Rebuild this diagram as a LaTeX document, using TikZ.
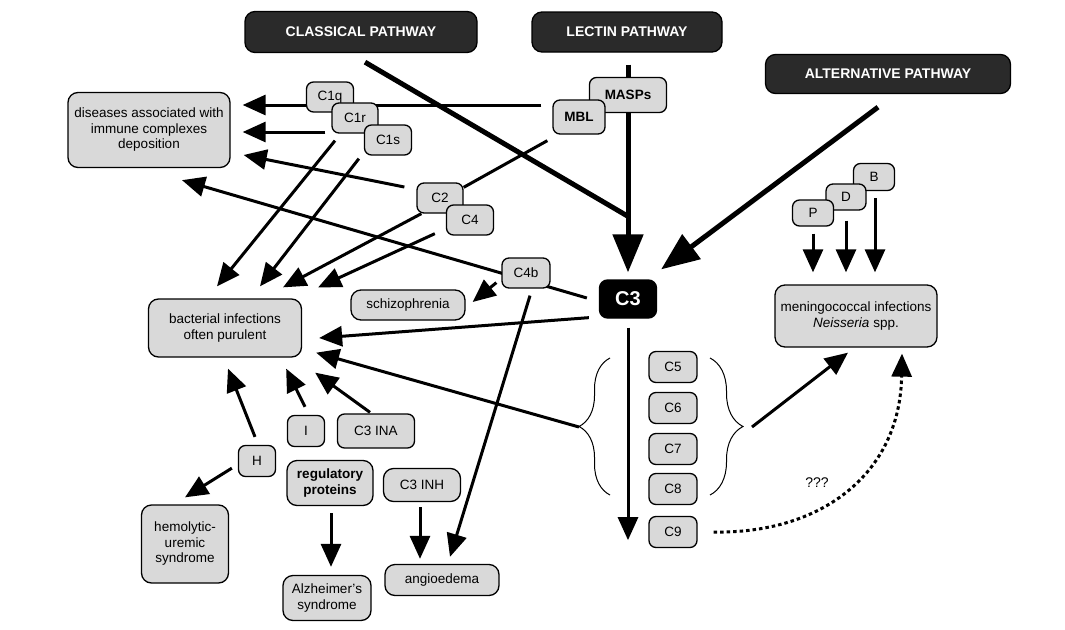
\documentclass[tikz,border=0pt]{standalone}
\usepackage{fontspec}
\setmainfont{Liberation Sans}
\usetikzlibrary{arrows.meta,calc,backgrounds,decorations.pathreplacing}
\definecolor{boxgray}{RGB}{217,217,217}
\definecolor{pathdark}{RGB}{42,42,42}

\begin{document}
\begin{tikzpicture}[x=1pt,y=-1pt,
    every node/.style={font=\fontsize{13.5}{15.5}\selectfont},
    gbox/.style={draw,line width=1.3pt,fill=boxgray,rounded corners=10pt,align=center,inner sep=0pt},
    sgbox/.style={gbox,rounded corners=7pt},
    pathway/.style={draw,line width=1.3pt,fill=pathdark,text=white,font=\fontsize{14}{16}\selectfont\bfseries,rounded corners=10pt,inner sep=0pt},
    arr/.style={line width=3pt,-{Triangle[length=23pt,width=20pt]}},
    bigarr/.style={line width=5pt,-{Triangle[length=38pt,width=30pt]}},
    conn/.style={line width=3pt},
    ]
    \useasboundingbox (0,0) rectangle (1065,629);

    % pathways
    \node[pathway,minimum width=232pt,minimum height=41pt] (cls) at (361,32) {CLASSICAL PATHWAY};
    \node[pathway,minimum width=190pt,minimum height=40pt] (lec) at (627,32) {LECTIN PATHWAY};
    \node[pathway,minimum width=245pt,minimum height=39pt] (alt) at (888,74) {ALTERNATIVE PATHWAY};

    % components
    \node[sgbox,minimum width=47pt,minimum height=30pt] (C1q) at (330,97) {C1q};
    \node[sgbox,minimum width=46pt,minimum height=30pt] (C1r) at (355,118) {C1r};
    \node[sgbox,minimum width=47pt,minimum height=30pt] (C1s) at (388,140) {C1s};
    \node[sgbox,minimum width=77pt,minimum height=35pt,font=\fontsize{13.5}{15.5}\selectfont\bfseries] (MASPs) at (628,95) {MASPs};
    \node[sgbox,minimum width=52pt,minimum height=34pt,font=\fontsize{13.5}{15.5}\selectfont\bfseries] (MBL) at (579,117) {MBL};
    \node[sgbox,minimum width=46pt,minimum height=30pt] (C2) at (440,198) {C2};
    \node[sgbox,minimum width=47pt,minimum height=30pt] (C4) at (470,220) {C4};
    \node[sgbox,minimum width=48pt,minimum height=30pt] (C4b) at (526,273) {C4b};
    \node[draw,line width=1.3pt,fill=black,text=white,rounded corners=8pt,inner sep=0pt,
          minimum width=57pt,minimum height=38pt,font=\fontsize{20}{24}\selectfont\bfseries] (C3) at (628,299) {C3};
    \foreach \n/\y in {5/367,6/408,7/449,8/489,9/532}
        \node[sgbox,minimum width=48pt,minimum height=31pt] (C\n) at (673,\y) {C\n};
    \node[sgbox,minimum width=41pt,minimum height=27pt] (B) at (874,177) {B};
    \node[sgbox,minimum width=40pt,minimum height=26pt] (D) at (846,197) {D};
    \node[sgbox,minimum width=41pt,minimum height=26pt] (P) at (813,213) {P};
    \node[sgbox,minimum width=37pt,minimum height=31pt] (I) at (306,431) {I};
    \node[sgbox,minimum width=77pt,minimum height=34pt] (INA) at (376,431) {C3 INA};
    \node[sgbox,minimum width=37pt,minimum height=31pt] (H) at (257,461) {H};
    \node[gbox,minimum width=86pt,minimum height=45pt,font=\fontsize{13.5}{15.5}\selectfont\bfseries] (reg) at (330,483) {regulatory\\proteins};
    \node[gbox,minimum width=77pt,minimum height=33pt] (INH) at (422,485) {C3 INH};

    % diseases
    \node[gbox,minimum width=162pt,minimum height=75pt] (dis) at (149,130) {diseases associated with\\immune complexes\\deposition};
    \node[gbox,minimum width=153pt,minimum height=58pt] (bac) at (225,328) {bacterial infections\\often purulent};
    \node[gbox,minimum width=114pt,minimum height=30pt] (schizo) at (408,305) {schizophrenia};
    \node[gbox,minimum width=87pt,minimum height=78pt] (hemo) at (185,544) {hemolytic-\\uremic\\syndrome};
    \node[gbox,minimum width=88pt,minimum height=45pt] (alz) at (327,598) {Alzheimer's\\syndrome};
    \node[gbox,minimum width=114pt,minimum height=31pt] (angio) at (442,580) {angioedema};
    \node[gbox,minimum width=162pt,minimum height=62pt] (men) at (856,316) {meningococcal infections\\\textit{Neisseria} spp.};
    \node[font=\fontsize{14}{16}\selectfont] (qq) at (817,483) {???};

    % braces round C5--C8
    \coordinate (lbr) at (579,427);
    \coordinate (rbr) at (743,427);
    \draw[line width=1pt,decorate,decoration={brace,amplitude=31pt}] (610,495) -- (610,358);
    \draw[line width=1pt,decorate,decoration={brace,amplitude=33pt}] (710,358) -- (710,495);

    \begin{scope}[on background layer]
        % into C3
        \draw[conn,line width=5pt] ($(cls.south)+(4,9)$) -- ($(C3.north)+(0,-63)$);
        \draw[bigarr] ($(lec.south)+(1,12)$) -- ($(C3.north)+(0,-7)$);
        \draw[bigarr] ($(alt.south)+(-10,13)$) -- ($(C3.north east)+(4,-10)$);
        \draw[arr] ($(C3.south)+(0,9)$) -- ($(C3.south |- C9.south)+(0,-8)$);
        \draw[conn] ($(MBL.south west)+(-5,6)$) -- ($(C2.north east)+(0,5)$);
        % to immune complexes
        \draw[arr] ($(MBL.west)+(-11,-12)$) -- ($(dis.east)+(12,-25)$);
        \draw[arr] ($(C1r.west)+(-6,14)$) -- ($(dis.east)+(12,2)$);
        \draw[arr] ($(C2.west)+(-12,-11)$) -- ($(dis.east)+(13,25)$);
        \draw[arr] ($(C3.west)+(-12,-1)$) -- ($(dis.south)+(33,12)$);
        % to bacterial infections
        \draw[arr] ($(C1r.south)+(-20,7)$) -- ($(bac.north)+(-8,-12)$);
        \draw[arr] ($(C1s.south west)+(-5,3)$) -- ($(bac.north)+(35,-12)$);
        \draw[arr] ($(C2.south west)+(5,0)$) -- ($(bac.north)+(58,-11)$);
        \draw[arr] ($(C4.south west)+(-11,-2)$) -- ($(bac.north east)+(16,-11)$);
        \draw[arr] ($(C3.south west)+(-10,-1)$) -- ($(bac.east)+(17,10)$);
        \draw[arr] (lbr) -- ($(bac.south east)+(14,-5)$);
        \draw[arr] ($(H.north)+(-2,-8)$) -- ($(bac.south)+(3,11)$);
        \draw[arr] ($(I.north)+(-1,-8)$) -- ($(bac.south east)+(-16,11)$);
        \draw[arr] ($(INA.north)+(-6,-1)$) -- ($(bac.south east)+(13,15)$);
        % others
        \draw[arr] ($(C4b.south west)+(-5,-6)$) -- ($(schizo.east)+(7,-3)$);
        \draw[arr] ($(C4b.south)+(4,7)$) -- ($(angio.north)+(8,-7)$);
        \draw[arr] ($(H.south west)+(-6,-9)$) -- ($(hemo.north)+(0,-7)$);
        \draw[arr] ($(reg.south)+(1,7)$) -- ($(reg.south |- alz.north)+(1,-8)$);
        \draw[arr] ($(INH.south)+(-2,5)$) -- ($(INH.south |- angio.north)+(-2,-5)$);
        \draw[arr] ($(P.south)+(0,7)$) -- ($(P.south |- men.north)+(0,-12)$);
        \draw[arr] ($(D.south)+(0,10)$) -- ($(D.south |- men.north)+(0,-12)$);
        \draw[arr] ($(B.south)+(1,7)$) -- ($(B.south |- men.north)+(1,-12)$);
        \draw[arr] ($(rbr)+(9,0)$) -- ($(men.south)+(-8,5)$);
        \draw[arr,dash pattern=on 3.5pt off 3pt] ($(C9.east)+(16,0)$) .. controls (820,534) and (900,475) .. ($(men.south)+(46,6)$);
    \end{scope}
\end{tikzpicture}
\end{document}
